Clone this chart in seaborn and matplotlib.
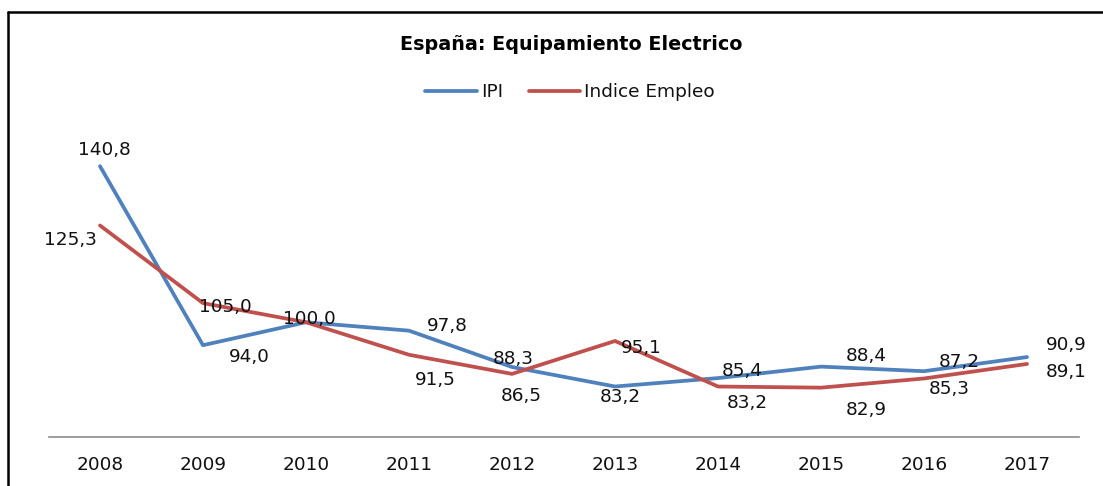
import matplotlib
matplotlib.use("Agg")
import matplotlib.pyplot as plt
from matplotlib.lines import Line2D
import seaborn as sns
import pandas as pd

years = ["2008", "2009", "2010", "2011", "2012", "2013", "2014", "2015", "2016", "2017"]
ipi = [140.8, 94.0, 100.0, 97.8, 88.3, 83.2, 85.4, 88.4, 87.2, 90.9]
empleo = [125.3, 105.0, 100.0, 91.5, 86.5, 95.1, 83.2, 82.9, 85.3, 89.1]
series_names = ["IPI", "Indice Empleo"]
colors = ["#4F81BD", "#C0504D"]

# label offsets (pixels) relative to each point
ipi_off = [(4, 16), (46, -12), (3, 3), (38, 5), (1, 8), (5, -10), (24, 7), (45, 11), (35, 9), (39, 12)]
emp_off = [(-30, -15), (22, -4), (3, 3), (26, -25), (9, -22), (26, -7), (29, -16), (45, -22), (25, -11), (39, -8)]

sns.set_style("white")
plt.rcParams["font.family"] = ["DejaVu Sans"]
plt.rcParams["text.color"] = "#111111"

df = pd.DataFrame({
    "year": years * 2,
    "value": ipi + empleo,
    "serie": [series_names[0]] * len(years) + [series_names[1]] * len(years),
})

FS = 13.3
W, H = 1103, 486
fig = plt.figure(figsize=(W / 100, H / 100), dpi=100)
ax_left, ax_right = 48.5, 1078.5
ax_bottom_px, ax_top_px = 437, 131
ax = fig.add_axes([ax_left / W, (H - ax_bottom_px) / H,
                   (ax_right - ax_left) / W, (ax_bottom_px - ax_top_px) / H])

sns.lineplot(data=df, x="year", y="value", hue="serie", palette=colors,
             linewidth=2.7, ax=ax, legend=False, sort=False)

ax.set_xlim(-0.5, len(years) - 0.5)
ax.set_ylim(70, 150)
ax.set_xlabel("")
ax.set_ylabel("")
ax.set_yticks([])
for s in ["top", "right", "left"]:
    ax.spines[s].set_visible(False)
ax.spines["bottom"].set_color("#8c8c8c")
ax.spines["bottom"].set_linewidth(1.2)
ax.tick_params(axis="x", length=0, pad=14, labelsize=FS, colors="#111111")

for vals, offs in ((ipi, ipi_off), (empleo, emp_off)):
    for i, (v, o) in enumerate(zip(vals, offs)):
        if i == 2 and vals is empleo:
            continue
        ax.annotate(f"{v:.1f}".replace(".", ","), (i, v), xytext=o,
                    textcoords="offset pixels", ha="center", va="center",
                    fontsize=FS, color="#111111")

fig.text(571 / W, 1 - 45 / H, "España: Equipamiento Electrico", ha="center",
         va="center", fontsize=13.8, fontweight="bold", color="black")

handles = [Line2D([], [], color=c, lw=2.7) for c in colors]
fig.legend(handles, series_names, loc="center", bbox_to_anchor=(570 / W, 1 - 92 / H),
           ncol=2, frameon=False, fontsize=FS, handlelength=2.8,
           handletextpad=0.2, columnspacing=1.4, labelcolor="#111111")

fig.add_artist(Line2D([8 / W, 1], [1 - 12 / H, 1 - 12 / H], color="black", lw=1.8,
                      transform=fig.transFigure))
fig.add_artist(Line2D([8 / W, 8 / W], [0, 1 - 12 / H], color="black", lw=1.8,
                      transform=fig.transFigure))

fig.savefig("out.png", dpi=100)
